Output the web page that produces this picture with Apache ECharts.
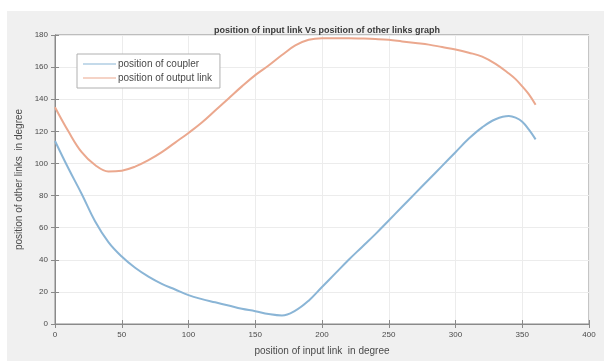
<!DOCTYPE html>
<html>
<head>
<meta charset="utf-8">
<script src="https://cdn.jsdelivr.net/npm/echarts@6/dist/echarts.min.js"></script>
<style>
  html, body { margin:0; padding:0; background:#ffffff; }
  #bg { position:absolute; left:7px; top:11px; width:597px; height:350px; background:#f0f0f0; }
  #chart { position:absolute; left:0; top:0; width:604px; height:361px; }
</style>
</head>
<body>
<div id="bg"></div>
<div id="chart"></div>
<script>
const angles = [0,10,20,30,40,50,60,70,80,90,100,110,120,130,140,150,160,170,180,190,200,210,220,230,240,250,260,270,280,290,300,310,320,330,340,345,350,355,360];
const coupler = [114,97,81,64,51,42,35,29.5,25,21.5,18,15.5,13.5,11.5,9.5,8,6.2,5.3,8.3,14.5,23,31.5,40,48,56,64.5,73,81.5,90,98.5,107,115.5,122.5,127.5,129.5,128.5,126,121,115];
const outputLink = [135,120,107,99,95,95.5,98,102,107,113,119,125.5,133,140.5,148,155,161,167.5,173.5,177,178,178,178,177.8,177.5,177,176,175,174,172.5,171,169,166.5,162,156,152.5,148,143,136.5];
const xTicks = {min:0, max:400, interval:50};
const yTicks = {min:0, max:180, interval:20};
const titleText = 'position of input link Vs position of other links graph';
const xName = 'position of input link  in degree';
const yName = 'position of other links  in degree';
const seriesNames = ['position of coupler', 'position of output link'];

const chart = echarts.init(document.getElementById('chart'), null, {renderer:'canvas'});
const font = 'Liberation Sans, Arial, sans-serif';
const axisCol = '#8a8a8a';
const txtCol = '#4a4a4a';
function pairs(xs, ys){ return xs.map((x,i)=>[x, ys[i]]); }
const baseAxis = {
  axisLine:{show:true, lineStyle:{color:axisCol, width:1}},
  axisTick:{show:true, inside:true, length:4, lineStyle:{color:axisCol}},
  splitLine:{show:false},
};
chart.setOption({
  animation:false,
  backgroundColor:'transparent',
  title:{text:titleText, left:322, top:21, textAlign:'center',
    textStyle:{fontFamily:font, fontSize:9, fontWeight:'bold', color:'#3a3a3a'}},
  grid:{left:55, top:35, width:534, height:290, show:true, backgroundColor:'#ffffff', borderColor:axisCol, borderWidth:1},
  legend:{
    show:true, left:77, top:54, orient:'vertical', itemGap:4,
    itemWidth:33, itemHeight:9, icon:'path://M0,4L33,4L33,5L0,5Z',
    padding:[5,8,5,6], backgroundColor:'#ffffff', borderColor:'#b0b0b0', borderWidth:1,
    textStyle:{fontFamily:font, fontSize:10, color:txtCol, padding:[0,0,0,-3]},
    data:seriesNames
  },
  xAxis:[
    Object.assign({}, baseAxis, {type:'value', position:'bottom', min:xTicks.min, max:xTicks.max, interval:xTicks.interval,
      name:xName, nameLocation:'middle', nameGap:22,
      nameTextStyle:{fontFamily:font, fontSize:10, color:txtCol},
      axisLabel:{fontFamily:font, fontSize:8, color:txtCol, margin:7},
      splitLine:{show:true, lineStyle:{color:'#ececec', width:1}}}),
    Object.assign({}, baseAxis, {type:'value', position:'top', min:xTicks.min, max:xTicks.max, interval:xTicks.interval,
      axisLabel:{show:false}})
  ],
  yAxis:[
    Object.assign({}, baseAxis, {type:'value', position:'left', min:yTicks.min, max:yTicks.max, interval:yTicks.interval,
      name:yName, nameLocation:'middle', nameGap:25,
      nameTextStyle:{fontFamily:font, fontSize:10, color:txtCol},
      axisLabel:{fontFamily:font, fontSize:8, color:txtCol, margin:7},
      splitLine:{show:true, lineStyle:{color:'#ececec', width:1}}}),
    Object.assign({}, baseAxis, {type:'value', position:'right', min:yTicks.min, max:yTicks.max, interval:yTicks.interval,
      axisLabel:{show:false}})
  ],
  series:[
    {name:seriesNames[0], type:'line', smooth:0.4, showSymbol:false, data:pairs(angles, coupler),
      lineStyle:{color:'#8ab5d6', width:2}, itemStyle:{color:'#8ab5d6'}},
    {name:seriesNames[1], type:'line', smooth:0.4, showSymbol:false, data:pairs(angles, outputLink),
      lineStyle:{color:'#eba88e', width:2}, itemStyle:{color:'#eba88e'}}
  ]
});
</script>
</body>
</html>
